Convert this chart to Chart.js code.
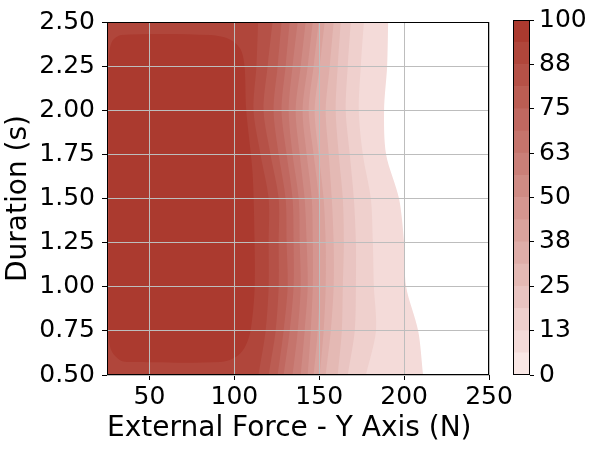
<!DOCTYPE html>
<html>
<head>
<meta charset="utf-8">
<script src="https://cdn.jsdelivr.net/npm/chart.js@4.4.0/dist/chart.umd.min.js"></script>
<style>
  html, body { margin: 0; padding: 0; background: #fff; }
  #wrap { position: relative; width: 597px; height: 449px; }
  #main { position: absolute; left: 0; top: 0; }
  #cbar { position: absolute; left: 490px; top: 0; }
</style>
</head>
<body>
<div id="wrap">
  <canvas id="main" width="597" height="449"></canvas>
  <canvas id="cbar" width="107" height="449"></canvas>
</div>
<script>
// Durations (s) where the contour boundaries were read
const durations = [0.5, 0.75, 1.0, 1.25, 1.5, 1.75, 2.0, 2.25, 2.5];

// Contour levels (success %)
const levels = [0, 6.25, 12.5, 18.75, 25, 31.25, 37.5, 43.75, 50,
                56.25, 62.5, 68.75, 75, 81.25, 87.5, 93.75, 100];

// Force (N) of each contour boundary, per duration above
const lvl6  = [211.2, 208.3, 201.2, 200.0, 197.0, 189.4, 188.2, 190.0, 190.6];
const lvl12 = [177.5, 183.4, 182.2, 181.6, 180.4, 175.7, 173.3, 174.5, 176.3];
const lvl19 = [166.8, 170.9, 171.6, 171.6, 170.4, 168.0, 165.6, 166.8, 168.6];
const lvl25 = [160.9, 163.3, 163.9, 164.5, 163.9, 161.5, 159.7, 160.9, 162.7];
const lvl31 = [153.8, 156.8, 158.5, 158.5, 157.4, 155.6, 153.8, 156.2, 158.5];
const lvl38 = [150.3, 152.6, 153.8, 153.8, 152.6, 149.7, 147.3, 150.3, 153.2];
const lvl44 = [146.7, 149.1, 150.3, 150.3, 149.7, 146.7, 143.8, 146.7, 149.7];
const lvl50 = [143.2, 145.0, 146.2, 146.2, 145.6, 142.6, 140.2, 143.2, 146.2];
const lvl56 = [139.1, 141.4, 143.2, 142.6, 141.4, 138.5, 136.1, 139.1, 142.0];
const lvl62 = [134.3, 137.3, 139.1, 138.5, 137.9, 134.3, 132.0, 134.3, 137.3];
const lvl69 = [129.0, 132.6, 134.9, 134.9, 134.3, 130.8, 127.8, 130.2, 132.6];
const lvl75 = [125.5, 129.0, 131.4, 130.8, 130.2, 126.1, 123.1, 125.5, 127.8];
const lvl81 = [120.2, 124.3, 126.1, 126.1, 126.1, 121.3, 117.2, 119.6, 122.5];
const lvl88 = [114.2, 118.4, 120.2, 120.2, 120.2, 115.4, 111.3, 113.0, 114.0];
const boundaries = [lvl6, lvl12, lvl19, lvl25, lvl31, lvl38, lvl44, lvl50,
                    lvl56, lvl62, lvl69, lvl75, lvl81, lvl88];

// Closed 93.75 % contour (the dark plateau)
const peakForce    = [26.2, 26.2, 28.0, 33.5, 86.0, 97.7, 103.6, 106.0, 107.0, 110.7,
                      111.9, 111.9, 109.5, 106.0, 100.6, 91.8, 38.6, 32.7, 28.0, 26.2, 26.2];
const peakDuration = [1.5, 2.30, 2.39, 2.426, 2.426, 2.40, 2.347, 2.25, 2.0, 1.65,
                      1.26, 0.98, 0.75, 0.655, 0.60, 0.573, 0.573, 0.584, 0.63, 0.70, 1.5];

// Axis ticks
const xTicks = [50, 100, 150, 200, 250];
const yTicks = [0.5, 0.75, 1.0, 1.25, 1.5, 1.75, 2.0, 2.25, 2.5];
const cbTicks = [0, 12.5, 25, 37.5, 50, 62.5, 75, 87.5, 100];
const cbTickLabels = ['0', '13', '25', '38', '50', '63', '75', '88', '100'];

const xMin = 25, xMax = 250, yMin = 0.5, yMax = 2.5;

// colour of band i (0 = lightest, 15 = darkest)
const light = [249, 231, 229];
const dark = [171, 58, 47];
function binColor(i) {
    const t = i / 15;
    const c = light.map((v, k) => Math.round(v + (dark[k] - v) * t));
    return `rgb(${c[0]}, ${c[1]}, ${c[2]})`;
}

const FONT = 'DejaVu Sans';

// black box around the plotting area
const framePlugin = {
    id: 'frame',
    afterDraw(chart) {
        const {ctx, chartArea: a} = chart;
        ctx.save();
        ctx.strokeStyle = '#000';
        ctx.lineWidth = 1;
        ctx.strokeRect(Math.round(a.left) + 0.5, Math.round(a.top) + 0.5,
                       Math.round(a.right - a.left) - 1, Math.round(a.bottom - a.top) - 1);
        ctx.restore();
    }
};

// Main contour chart
const datasets = [];
datasets.push({
    data: peakForce.map((x, i) => ({x: x, y: peakDuration[i]})),
    backgroundColor: binColor(15),
    fill: 'shape',
    borderWidth: 0,
    pointRadius: 0,
    tension: 0.3
});
for (let k = boundaries.length - 1; k >= 0; k--) {
    datasets.push({
        data: boundaries[k].map((x, i) => ({x: x, y: durations[i]})),
        backgroundColor: binColor(k + 1),
        fill: {value: xMin},
        borderWidth: 0,
        pointRadius: 0,
        tension: 0.3
    });
}

new Chart(document.getElementById('main'), {
    type: 'line',
    data: { datasets: datasets },
    options: {
        responsive: false,
        animation: false,
        indexAxis: 'y',
        layout: { padding: { left: 0, top: 20, right: 108, bottom: 0 } },
        plugins: { legend: { display: false }, tooltip: { enabled: false } },
        scales: {
            x: {
                type: 'linear', min: xMin, max: xMax,
                afterBuildTicks: s => { s.ticks = xTicks.map(v => ({value: v})); },
                afterFit: s => { s.height = 74; },
                grid: { z: 1, color: '#bdbdbd', lineWidth: 1, tickLength: 5, tickColor: '#000' },
                border: { display: false },
                ticks: { color: '#000', font: { family: FONT, size: 25 }, padding: 2, maxRotation: 0, autoSkip: false },
                title: { display: true, text: 'External Force - Y Axis (N)', color: '#000', align: 'start',
                         font: { family: FONT, size: 28 }, padding: { top: 0, bottom: 3 } }
            },
            y: {
                type: 'linear', min: yMin, max: yMax,
                afterBuildTicks: s => { s.ticks = yTicks.map(v => ({value: v})); },
                afterFit: s => { s.width = 107; },
                grid: { z: 1, color: '#bdbdbd', lineWidth: 1, tickLength: 5, tickColor: '#000' },
                border: { display: false },
                ticks: { color: '#000', font: { family: FONT, size: 25 }, padding: 7, autoSkip: false,
                         callback: v => Number(v).toFixed(2) },
                title: { display: true, text: 'Duration (s)', color: '#000',
                         font: { family: FONT, size: 28 }, padding: { top: 2, bottom: 0 } }
            }
        }
    },
    plugins: [framePlugin]
});

// Colour bar
const cbDatasets = levels.slice(1).map((lv, i) => ({
    data: [lv - levels[i]],
    backgroundColor: binColor(i),
    borderWidth: 0,
    barPercentage: 1,
    categoryPercentage: 1
}));

new Chart(document.getElementById('cbar'), {
    type: 'bar',
    data: { labels: [''], datasets: cbDatasets },
    options: {
        responsive: false,
        animation: false,
        layout: { padding: { left: 23, top: 20, right: 0, bottom: 74 } },
        plugins: { legend: { display: false }, tooltip: { enabled: false } },
        scales: {
            x: { display: false, stacked: true },
            y: {
                stacked: true, position: 'right', min: 0, max: 100,
                afterBuildTicks: s => { s.ticks = cbTicks.map(v => ({value: v})); },
                afterFit: s => { s.width = 67; },
                grid: { drawOnChartArea: false, tickLength: 4, tickColor: '#000' },
                border: { display: false },
                ticks: { color: '#000', font: { family: FONT, size: 25 }, padding: 5, autoSkip: false,
                         callback: (v, i) => cbTickLabels[i] }
            }
        }
    },
    plugins: [framePlugin]
});
</script>
</body>
</html>
